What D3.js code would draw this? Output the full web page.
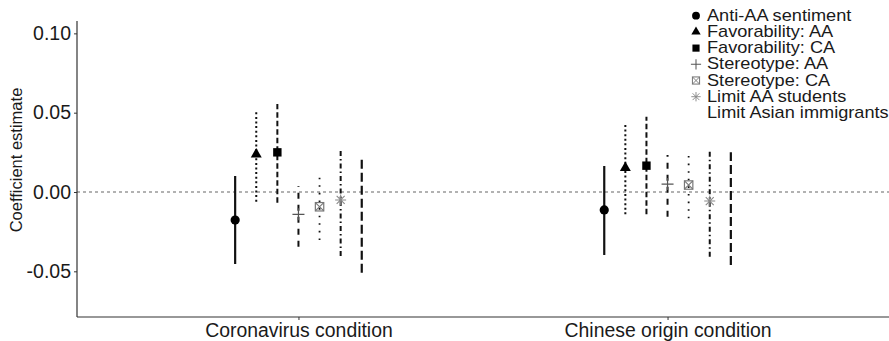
<!DOCTYPE html>
<html>
<head>
<meta charset="utf-8">
<script src="https://cdn.jsdelivr.net/npm/d3@7"></script>
<style>
  body { margin: 0; background: #fff; }
  svg { display: block; font-family: "Liberation Sans", Arial, sans-serif; }
</style>
</head>
<body>
<svg id="chart" width="889" height="341"></svg>
<script>
// conditions on the x axis
var conditions = ["Coronavirus condition", "Chinese origin condition"];
// outcome series, in dodge order
var series = ["Anti-AA sentiment", "Favorability: AA", "Favorability: CA",
  "Stereotype: AA", "Stereotype: CA", "Limit AA students", "Limit Asian immigrants"];
// point estimates [coronavirus, chinese origin]
var estimate = [
  [-0.0177, -0.0113],
  [0.0238, 0.0153],
  [0.0250, 0.0166],
  [-0.0141, 0.0050],
  [-0.0093, 0.0044],
  [-0.0050, -0.0057],
  [-0.0150, -0.0105]
];
var ciLow = [
  [-0.0454, -0.0397],
  [-0.0061, -0.0141],
  [-0.0067, -0.0141],
  [-0.0345, -0.0156],
  [-0.0303, -0.0166],
  [-0.0404, -0.0408],
  [-0.0509, -0.0460]
];
var ciHigh = [
  [0.0101, 0.0164],
  [0.0513, 0.0433],
  [0.0555, 0.0475],
  [0.0038, 0.0233],
  [0.0093, 0.0233],
  [0.0265, 0.0265],
  [0.0206, 0.0250]
];
var yTicks = [-0.05, 0, 0.05, 0.10];

// look of each series
var dashes = ["none", "2,2.6", "5.5,3", "6,6", "1.6,6", "5,3,1.5,3", "9,4"];
var widths = [2.2, 2, 2, 2, 1.8, 2, 2.2];
var shapes = ["circle", "triangle", "square", "plus", "boxx", "star", null];
var shapeColor = ["#000", "#000", "#000", "#555", "#777", "#888", "#000"];

var svg = d3.select("#chart");
var plotL = 77, plotR = 889, plotT = 21, plotB = 317;

var x = d3.scalePoint().domain(conditions).range([plotL, plotR]).padding(0.6);
var dodge = d3.scalePoint().domain(series).range([-63.3, 63.3]);
var y = d3.scaleLinear().domain([-0.0788, 0.1078]).range([plotB, plotT]);

// zero reference line
svg.append("line")
  .attr("x1", plotL).attr("x2", plotR)
  .attr("y1", y(0)).attr("y2", y(0))
  .attr("stroke", "#666").attr("stroke-width", 1.1)
  .attr("stroke-dasharray", "3,3");

// axes
var yAxis = svg.append("g")
  .attr("transform", "translate(" + plotL + ",0)")
  .call(d3.axisLeft(y).tickValues(yTicks).tickSize(3).tickPadding(3)
    .tickFormat(function(d) { return d.toFixed(2); }));
var xAxis = svg.append("g")
  .attr("transform", "translate(0," + plotB + ")")
  .call(d3.axisBottom(x).tickSize(3).tickPadding(3));
[yAxis, xAxis].forEach(function(g) {
  g.select(".domain").remove();
  g.selectAll("line").attr("stroke", "#333");
  g.selectAll("text").attr("fill", "#1a1a1a").style("font-size", "19.5px")
    .style("font-family", "Liberation Sans, Arial, sans-serif");
});
xAxis.selectAll("text").style("font-size", "19.4px");
svg.append("line").attr("x1", plotL).attr("x2", plotL).attr("y1", plotT).attr("y2", plotB)
  .attr("stroke", "#333").attr("stroke-width", 1.2);
svg.append("line").attr("x1", plotL).attr("x2", plotR).attr("y1", plotB).attr("y2", plotB)
  .attr("stroke", "#333").attr("stroke-width", 1.2);

svg.append("text")
  .attr("transform", "translate(16,160) rotate(-90)")
  .attr("text-anchor", "middle").attr("dominant-baseline", "central")
  .style("font-size", "16.5px").attr("fill", "#1a1a1a")
  .text("Coefficient estimate");

function drawShape(g, kind, color) {
  if (kind === "circle") {
    g.append("circle").attr("r", 4.6).attr("fill", color);
  } else if (kind === "triangle") {
    g.append("path").attr("d", d3.symbol(d3.symbolTriangle, 52)()).attr("fill", color);
  } else if (kind === "square") {
    g.append("rect").attr("x", -4.2).attr("y", -4.2).attr("width", 8.4).attr("height", 8.4)
      .attr("fill", color);
  } else if (kind === "plus") {
    g.append("path").attr("d", "M-6,0H6M0,-6V6").attr("stroke", color).attr("stroke-width", 1.2);
  } else if (kind === "boxx") {
    g.append("rect").attr("x", -4.2).attr("y", -4.2).attr("width", 8.4).attr("height", 8.4)
      .attr("fill", "none").attr("stroke", color).attr("stroke-width", 1.2);
    g.append("path").attr("d", "M-4.2,-4.2L4.2,4.2M-4.2,4.2L4.2,-4.2")
      .attr("stroke", color).attr("stroke-width", 1.1);
  } else if (kind === "star") {
    g.append("path").attr("d", "M-5.5,0H5.5M0,-5.5V5.5M-4,-4L4,4M-4,4L4,-4")
      .attr("stroke", color).attr("stroke-width", 1.1);
  }
}

// error bars and points
series.forEach(function(s, i) {
  conditions.forEach(function(c, j) {
    var cx = x(c) + dodge(s);
    svg.append("line")
      .attr("x1", cx).attr("x2", cx)
      .attr("y1", y(ciLow[i][j])).attr("y2", y(ciHigh[i][j]))
      .attr("stroke", "#111").attr("stroke-width", widths[i])
      .attr("stroke-dasharray", dashes[i]);
    if (shapes[i]) {
      var g = svg.append("g").attr("transform", "translate(" + cx + "," + y(estimate[i][j]) + ")");
      drawShape(g, shapes[i], shapeColor[i]);
    }
  });
});

// legend
var legend = svg.append("g");
series.forEach(function(s, i) {
  var ly = 15.7 + i * 16.2;
  if (shapes[i]) {
    var g = legend.append("g").attr("transform", "translate(696," + ly + ") scale(0.85)");
    drawShape(g, shapes[i], shapeColor[i]);
  }
  legend.append("text")
    .attr("transform", "translate(707," + ly + ") scale(1.15,1)")
    .attr("dominant-baseline", "central")
    .style("font-size", "15.8px").attr("fill", "#1a1a1a")
    .text(s);
});
</script>
</body>
</html>
